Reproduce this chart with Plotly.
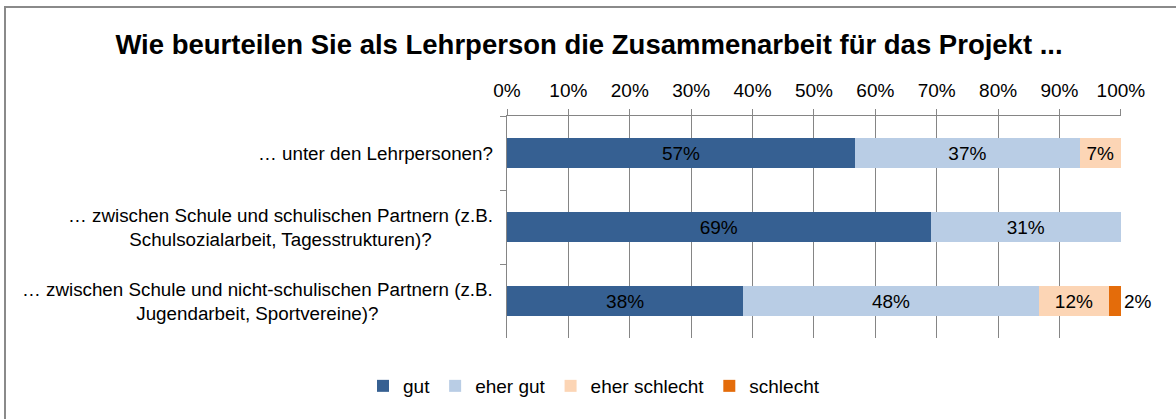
import plotly.graph_objects as go

title = "Wie beurteilen Sie als Lehrperson die Zusammenarbeit für das Projekt ..."
categories = [
    "… unter den Lehrpersonen?",
    "… zwischen Schule und schulischen Partnern (z.B.<br>Schulsozialarbeit, Tagesstrukturen)?",
    "… zwischen Schule und nicht-schulischen Partnern (z.B.<br>Jugendarbeit, Sportvereine)?",
]
series_names = ["gut", "eher gut", "eher schlecht", "schlecht"]
gut = [56.7, 69.0, 38.5]
eher_gut = [36.6, 31.0, 48.1]
eher_schlecht = [6.7, 0.0, 11.5]
schlecht = [0.0, 0.0, 1.9]
colors = ["#366092", "#B9CDE5", "#FCD5B5", "#E46C0A"]
tick_vals = [0, 10, 20, 30, 40, 50, 60, 70, 80, 90, 100]

FONT = "Arial, 'Liberation Sans', sans-serif"

fig = go.Figure()
for name, vals, col in zip(series_names, [gut, eher_gut, eher_schlecht, schlecht], colors):
    fig.add_trace(go.Bar(
        name=name,
        y=categories,
        x=[v if v > 0 else None for v in vals],
        orientation="h",
        marker=dict(color=col, line=dict(width=0)),
        text=[f"{v:.0f}%" if v > 0 else "" for v in vals],
        textposition="outside" if name == "schlecht" else "inside",
        insidetextanchor="middle",
        textfont=dict(family=FONT, size=19, color="black"),
        constraintext="none",
        cliponaxis=False,
        hoverinfo="skip",
    ))

annotations = []
for c in categories:
    annotations.append(dict(
        x=0, xref="paper", xshift=-12, xanchor="right",
        y=c, yref="y", yanchor="middle",
        text=c, align="center", showarrow=False,
        font=dict(family=FONT, size=18.8, color="black"),
    ))

fig.update_layout(
    width=1176, height=419,
    margin=dict(l=507, r=55, t=116, b=81),
    paper_bgcolor="white", plot_bgcolor="white",
    barmode="stack", bargap=0.6,
    title=dict(text=f"<b>{title}</b>", x=589 / 1176, xanchor="center",
               y=1 - 44 / 419, yanchor="middle",
               font=dict(family=FONT, size=27.5, color="black")),
    xaxis=dict(
        side="top", range=[0, 100.02], tickvals=tick_vals,
        ticktext=[f"{v}%" for v in tick_vals],
        ticks="outside", ticklen=6, tickcolor="#888888", tickwidth=1,
        showgrid=True, gridcolor="#858585", gridwidth=1.3,
        showline=True, linecolor="#858585", linewidth=1.3,
        zeroline=False,
        tickfont=dict(family=FONT, size=19, color="black"),
        ticklabelstandoff=4,
        fixedrange=True,
    ),
    yaxis=dict(
        type="category", autorange="reversed",
        tickson="boundaries", ticks="outside", ticklen=6,
        tickcolor="#888888", tickwidth=1,
        showticklabels=False, showgrid=False,
        showline=True, linecolor="#858585", linewidth=1.3,
        fixedrange=True,
    ),
    legend=dict(
        orientation="h", x=(594 - 507) / 614, xanchor="center",
        y=(338 - 386) / 222, yanchor="middle",
        font=dict(family=FONT, size=19, color="black"),
        itemwidth=30, traceorder="normal",
    ),
    annotations=annotations,
    shapes=[dict(
        type="rect", xref="paper", yref="paper",
        x0=(5 - 507) / 614, x1=(1190 - 507) / 614,
        y0=(338 - 440) / 222, y1=(338 - 7) / 222,
        line=dict(color="#8a8a8a", width=2), layer="below",
    )],
)

fig.write_html(
    "out.html",
    config={"displayModeBar": False},
    post_script="document.body.style.margin='0';document.body.style.overflow='hidden';",
)
